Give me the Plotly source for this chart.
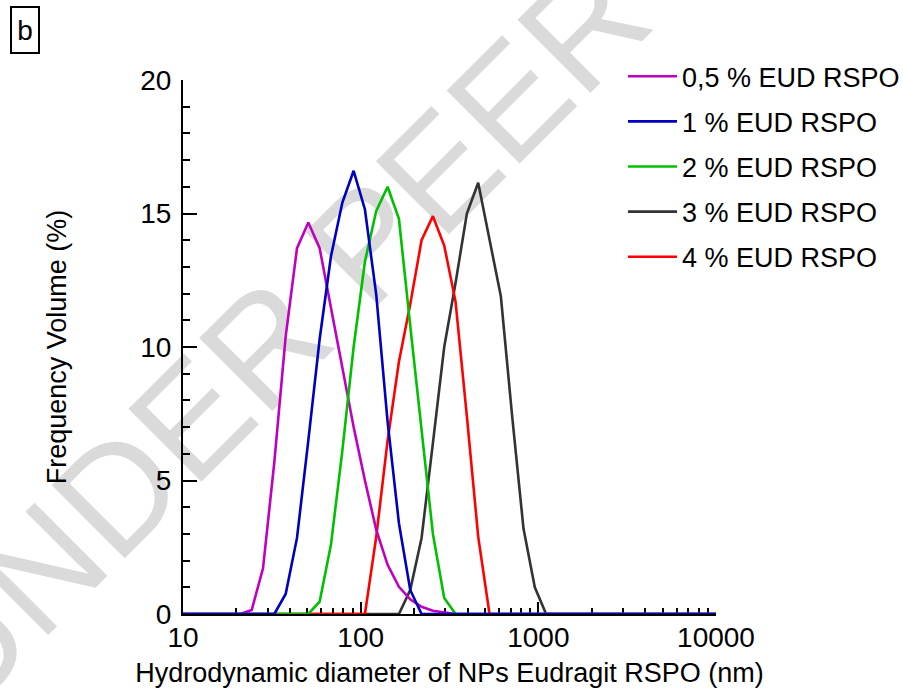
import plotly.graph_objects as go

# Size bins (nm), log-spaced
sizes_nm = [8.721, 10.1, 11.7, 13.54, 15.69, 18.17, 21.04, 24.36, 28.21, 32.67,
            37.84, 43.82, 50.75, 58.77, 68.06, 78.82, 91.28, 105.7, 122.4, 141.8,
            164.2, 190.1, 220.2, 255.0, 295.3, 342.0, 396.1, 458.7, 531.2, 615.1,
            712.4, 825.0, 955.4, 1106, 1281, 1484, 1718, 1990, 2305, 2669,
            3091, 3580, 4145, 4801, 5560, 6439, 7456, 8635, 10000]

vol_05 = [0, 0, 0, 0, 0, 0, 0, 0.15, 1.71, 5.7,
          10.4, 13.7, 14.66, 13.7, 11.5, 9.3, 7.0, 5.0, 3.15, 1.84,
          1.02, 0.55, 0.27, 0.12, 0.05, 0, 0, 0, 0, 0,
          0, 0, 0, 0, 0, 0, 0, 0, 0, 0,
          0, 0, 0, 0, 0, 0, 0, 0, 0]
vol_1 = [0, 0, 0, 0, 0, 0, 0, 0, 0, 0,
         0.75, 2.85, 6.5, 10.3, 13.4, 15.4, 16.6, 15.15, 11.95, 7.2,
         3.4, 0.9, 0, 0, 0, 0, 0, 0, 0, 0,
         0, 0, 0, 0, 0, 0, 0, 0, 0, 0,
         0, 0, 0, 0, 0, 0, 0, 0, 0]
vol_2 = [0, 0, 0, 0, 0, 0, 0, 0, 0, 0,
         0, 0, 0, 0.46, 2.6, 6.1, 10.0, 13.2, 15.1, 16.0,
         14.8, 10.8, 6.9, 3.0, 0.6, 0, 0, 0, 0, 0,
         0, 0, 0, 0, 0, 0, 0, 0, 0, 0,
         0, 0, 0, 0, 0, 0, 0, 0, 0]
vol_3 = [0, 0, 0, 0, 0, 0, 0, 0, 0, 0,
         0, 0, 0, 0, 0, 0, 0, 0, 0, 0,
         0, 0.9, 2.85, 6.4, 10.0, 12.4, 15.0, 16.15, 14.0, 11.9,
         7.4, 3.2, 1.0, 0, 0, 0, 0, 0, 0, 0,
         0, 0, 0, 0, 0, 0, 0, 0, 0]
vol_4 = [0, 0, 0, 0, 0, 0, 0, 0, 0, 0,
         0, 0, 0, 0, 0, 0, 0, 0, 2.9, 6.5,
         9.45, 11.6, 14.0, 14.9, 13.8, 11.7, 7.4, 2.9, 0, 0,
         0, 0, 0, 0, 0, 0, 0, 0, 0, 0,
         0, 0, 0, 0, 0, 0, 0, 0, 0]

series_names = ["0,5 % EUD RSPO", "1 % EUD RSPO", "2 % EUD RSPO",
                "3 % EUD RSPO", "4 % EUD RSPO"]
x_tick_vals = [10, 100, 1000, 10000]
x_tick_text = ["10", "100", "1000", "10000"]

FONT = "Liberation Sans, Arial, sans-serif"

series = [
    (series_names[3], vol_3, "#333333", 4),
    (series_names[4], vol_4, "#ff0000", 5),
    (series_names[0], vol_05, "#c000c0", 1),
    (series_names[2], vol_2, "#00c000", 3),
    (series_names[1], vol_1, "#0000c0", 2),
]

fig = go.Figure()
for name, vals, color, rank in series:
    fig.add_trace(go.Scatter(
        x=sizes_nm, y=vals, mode="lines", name=name,
        line=dict(color=color, width=2.6),
        legendrank=rank, legendgroup=name,
    ))

fig.update_layout(
    width=903, height=696,
    margin=dict(l=183, r=187, t=80, b=82, autoexpand=False),
    paper_bgcolor="white", plot_bgcolor="white",
    font=dict(family=FONT, size=27, color="black"),
    showlegend=True,
    legend=dict(
        x=0.8255, y=1.052, xanchor="left", yanchor="top",
        font=dict(family=FONT, size=27, color="black"),
        bgcolor="rgba(0,0,0,0)", borderwidth=0,
        tracegroupgap=7, itemwidth=49,
    ),
    xaxis=dict(
        type="log", range=[1, 4],
        tickmode="array", tickvals=x_tick_vals, ticktext=x_tick_text,
        ticks="inside", ticklen=12, tickwidth=1.5, tickcolor="black",
        showline=True, linecolor="black", linewidth=2, mirror=False,
        showgrid=False, zeroline=False, layer="below traces",
        tickfont=dict(family=FONT, size=28), ticklabelstandoff=-3,
        minor=dict(ticks="inside", ticklen=6, tickwidth=1.5, tickcolor="black",
                   dtick="D1", showgrid=False),
        title=dict(text="Hydrodynamic diameter of NPs Eudragit RSPO (nm)",
                   font=dict(family=FONT, size=27), standoff=12),
    ),
    yaxis=dict(
        range=[0, 20], dtick=5,
        ticks="inside", ticklen=14, tickwidth=1.5, tickcolor="black",
        showline=True, linecolor="black", linewidth=2,
        showgrid=False, zeroline=False, layer="below traces",
        tickfont=dict(family=FONT, size=28), ticklabelstandoff=4,
        minor=dict(ticks="inside", ticklen=7, tickwidth=1.5, tickcolor="black",
                   dtick=1, showgrid=False),
        title=dict(text="Frequency Volume (%)",
                   font=dict(family=FONT, size=27), standoff=66),
    ),
)

# panel tag "b"
fig.add_annotation(
    text="b", xref="paper", yref="paper", x=-0.296, y=1.0936,
    xanchor="center", yanchor="middle", showarrow=False,
    width=24, height=42,
    font=dict(family=FONT, size=28, color="black"),
    bordercolor="black", borderwidth=2, borderpad=1,
)

# faint watermark behind the data
fig.add_shape(
    type="rect", xref="paper", yref="paper",
    x0=0.567, x1=0.577, y0=0.954, y1=0.964,
    line=dict(width=0), fillcolor="rgba(0,0,0,0)", layer="below",
    label=dict(text="UNDER PEER REVIEW", textangle=-45,
               textposition="middle center",
               font=dict(family="Liberation Sans Narrow, Liberation Sans, sans-serif",
                         size=150, color="#dadada")),
)

fig.write_html("out.html")
